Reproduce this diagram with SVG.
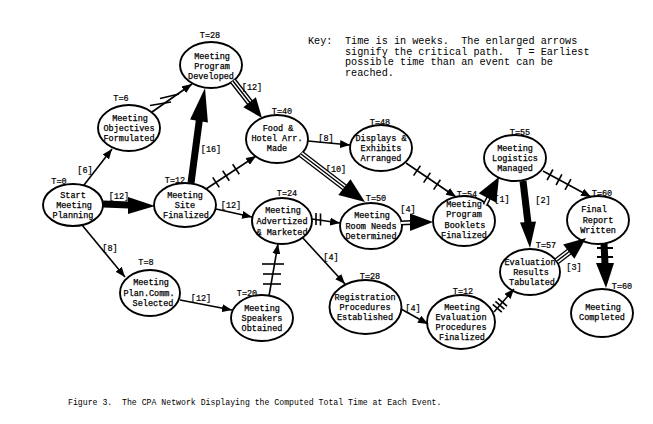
<svg xmlns="http://www.w3.org/2000/svg" width="653" height="424" viewBox="0 0 653 424">
<defs>
<style>
.node ellipse{fill:#fff;stroke:#000;stroke-width:1.9}
text{font-family:"Liberation Mono","DejaVu Sans Mono",monospace;fill:#000}
.nt{font-size:8.5px;text-anchor:middle;stroke:#000;stroke-width:0.25}
.tl{font-size:8.5px;text-anchor:middle;stroke:#000;stroke-width:0.2}
.lb{font-size:8.5px;text-anchor:middle;stroke:#000;stroke-width:0.2}
.key{font-size:10.2px}
.cap{font-size:8.2px}
.thin{stroke:#000;stroke-width:1.6;fill:none;marker-end:url(#ah)}
.tick{stroke:#000;stroke-width:1.6}
.thick{stroke:#000;stroke-width:7;fill:none}
.head{fill:#000}
.tri-o{stroke:#000;stroke-width:7;fill:none}
.tri-w{stroke:#fff;stroke-width:4.4;fill:none}
.tri-c{stroke:#000;stroke-width:1.4;fill:none}
.dbl-o{stroke:#000;stroke-width:5;fill:none}
.dbl-w{stroke:#fff;stroke-width:2;fill:none}
</style>
<marker id="ah" markerUnits="userSpaceOnUse" markerWidth="10" markerHeight="8" refX="10" refY="4" orient="auto">
<path d="M0,0 L10,4 L0,8 z" fill="#000"/>
</marker>
</defs>
<rect width="653" height="424" fill="#fff"/>

<g id="key">
<text class="key" x="308" y="44">Key:</text>
<text class="key" x="345" y="44" xml:space="preserve">Time is in weeks.  The enlarged arrows</text>
<text class="key" x="345" y="54.5" xml:space="preserve">signify the critical path.  T = Earliest</text>
<text class="key" x="345" y="65">possible time than an event can be</text>
<text class="key" x="345" y="75.5">reached.</text>
</g>

<g id="n-start" class="node"><ellipse cx="73" cy="205" rx="30" ry="21"/>
<text class="tl" x="59" y="184">T=0</text>
<text class="nt" x="73" y="198">Start</text><text class="nt" x="74" y="208">Meeting</text><text class="nt" x="73" y="218">Planning</text></g>

<g id="n-objectives" class="node"><ellipse cx="129" cy="128" rx="31" ry="23"/>
<text class="tl" x="121" y="101">T=6</text>
<text class="nt" x="130" y="121">Meeting</text><text class="nt" x="129" y="131">Objectives</text><text class="nt" x="129" y="141">Formulated</text></g>

<g id="n-program" class="node"><ellipse cx="211" cy="65" rx="31" ry="23"/>
<text class="tl" x="210" y="38">T=28</text>
<text class="nt" x="212" y="59">Meeting</text><text class="nt" x="212" y="69">Program</text><text class="nt" x="211" y="79">Developed</text></g>

<g id="n-site" class="node"><ellipse cx="185" cy="205" rx="31" ry="22"/>
<text class="tl" x="175" y="183">T=12</text>
<text class="nt" x="185" y="198">Meeting</text><text class="nt" x="185" y="208">Site</text><text class="nt" x="186" y="218">Finalized</text></g>

<g id="n-food" class="node"><ellipse cx="277" cy="139" rx="31" ry="24"/>
<text class="tl" x="282" y="114">T=40</text>
<text class="nt" x="278" y="131">Food &amp;</text><text class="nt" x="277" y="141">Hotel Arr.</text><text class="nt" x="277" y="151">Made</text></g>

<g id="n-advertized" class="node"><ellipse cx="282" cy="221" rx="30" ry="23"/>
<text class="tl" x="287" y="196">T=24</text>
<text class="nt" x="283" y="213">Meeting</text><text class="nt" x="282" y="224">Advertized</text><text class="nt" x="282" y="235">&amp; Marketed</text></g>

<g id="n-plancomm" class="node"><ellipse cx="150" cy="293" rx="30" ry="23"/>
<text class="tl" x="146" y="265">T=8</text>
<text class="nt" x="151" y="285">Meeting</text><text class="nt" x="149" y="296">Plan.Comm.</text><text class="nt" x="153" y="306">Selected</text></g>

<g id="n-speakers" class="node"><ellipse cx="262" cy="318" rx="31" ry="23"/>
<text class="tl" x="247" y="296">T=20</text>
<text class="nt" x="262" y="311">Meeting</text><text class="nt" x="262" y="321">Speakers</text><text class="nt" x="262" y="331">Obtained</text></g>

<g id="n-displays" class="node"><ellipse cx="381" cy="148" rx="31" ry="23"/>
<text class="tl" x="380" y="125">T=48</text>
<text class="nt" x="381" y="141">Displays &amp;</text><text class="nt" x="381" y="151">Exhibits</text><text class="nt" x="381" y="161">Arranged</text></g>

<g id="n-room" class="node"><ellipse cx="371" cy="226" rx="31" ry="23"/>
<text class="tl" x="376" y="201">T=50</text>
<text class="nt" x="372" y="218">Meeting</text><text class="nt" x="371" y="229">Room Needs</text><text class="nt" x="371" y="239">Determined</text></g>

<g id="n-registration" class="node"><ellipse cx="365.5" cy="307" rx="36" ry="27"/>
<text class="tl" x="370" y="279">T=28</text>
<text class="nt" x="365" y="300">Registration</text><text class="nt" x="365" y="310">Procedures</text><text class="nt" x="365" y="320">Established</text></g>

<g id="n-evalproc" class="node"><ellipse cx="461" cy="322" rx="34" ry="27"/>
<text class="tl" x="463" y="294">T=12</text>
<text class="nt" x="462" y="310">Meeting</text><text class="nt" x="461" y="320">Evaluation</text><text class="nt" x="461" y="330">Procedures</text><text class="nt" x="462" y="340">Finalized</text></g>

<g id="n-booklets" class="node"><ellipse cx="464" cy="221" rx="31" ry="25"/>
<text class="tl" x="467" y="197">T=54</text>
<text class="nt" x="464" y="206.5">Meeting</text><text class="nt" x="464" y="217">Program</text><text class="nt" x="465" y="227.5">Booklets</text><text class="nt" x="464" y="238">Finalized</text></g>

<g id="n-logistics" class="node"><ellipse cx="515" cy="158" rx="31" ry="23"/>
<text class="tl" x="520" y="135">T=55</text>
<text class="nt" x="515" y="151">Meeting</text><text class="nt" x="515" y="161">Logistics</text><text class="nt" x="515" y="171">Managed</text></g>

<g id="n-evalres" class="node"><ellipse cx="530" cy="272" rx="30" ry="23"/>
<text class="tl" x="546" y="248">T=57</text>
<text class="nt" x="530" y="265">Evaluation</text><text class="nt" x="531" y="275">Results</text><text class="nt" x="532" y="285">Tabulated</text></g>

<g id="n-final" class="node"><ellipse cx="598" cy="220" rx="31" ry="24"/>
<text class="tl" x="602" y="196">T=60</text>
<text class="nt" x="594" y="212">Final</text><text class="nt" x="598" y="223">Report</text><text class="nt" x="598" y="233">Written</text></g>

<g id="n-completed" class="node"><ellipse cx="602" cy="313" rx="31" ry="24"/>
<text class="tl" x="622" y="289">T=60</text>
<text class="nt" x="603" y="310">Meeting</text><text class="nt" x="602" y="320">Completed</text></g>

<g id="connectors">
<g><line class="thin" x1="84" y1="185" x2="112" y2="149"/><text class="lb" x="85" y="173">[6]</text></g>
<g><line class="thin" x1="152" y1="112" x2="192" y2="84"/>
<line class="tick" x1="150" y1="105.5" x2="171" y2="102"/><line class="tick" x1="160" y1="98.5" x2="179" y2="94"/></g>
<g><line class="thick" x1="103" y1="204" x2="129" y2="205"/><polygon class="head" points="128,197 155,206 128,214"/><text class="lb" x="119" y="199">[12]</text></g>
<g><line class="thin" x1="82" y1="225" x2="125" y2="277"/><text class="lb" x="110" y="251">[8]</text></g>
<g><line class="thick" x1="191" y1="183" x2="199.5" y2="119"/><polygon class="head" points="190.1,119.4 205,88 207.9,122.6"/><text class="lb" x="211" y="152">[16]</text></g>
<g><line class="thin" x1="206" y1="189" x2="256" y2="156"/>
<line class="tick" x1="212.7" y1="177.4" x2="219.3" y2="187.4"/><line class="tick" x1="222.7" y1="170.8" x2="229.3" y2="180.8"/><line class="tick" x1="232.7" y1="164.2" x2="239.3" y2="174.2"/></g>
<g><line class="thin" x1="216" y1="209" x2="252" y2="217"/><text class="lb" x="231" y="208">[12]</text></g>
<g><path class="tri-o" d="M233,81 L251,104"/><path class="tri-w" d="M233,81 L251,104"/><path class="tri-c" d="M233,81 L251,104"/>
<polygon class="head" points="255.9,97.3 262,118 243.3,107.3"/><text class="lb" x="252" y="90">[12]</text></g>
<g><line class="thin" x1="308" y1="141" x2="350" y2="145"/><text class="lb" x="326" y="141">[8]</text></g>
<g><text class="lb" x="336" y="172">[10]</text>
<path class="tri-o" d="M301,154 L346,188.5"/><path class="tri-w" d="M301,154 L346,188.5"/><path class="tri-c" d="M301,154 L346,188.5"/>
<polygon class="head" points="350.5,179.2 365,202 338.3,195"/></g>
<g><line class="thin" x1="312" y1="219" x2="340" y2="223"/>
<line class="tick" x1="316" y1="213" x2="316" y2="225"/><line class="tick" x1="320.5" y1="213.5" x2="320.5" y2="225.5"/></g>
<g><line class="thin" x1="302" y1="237" x2="345" y2="284"/><text class="lb" x="331" y="260">[4]</text></g>
<g><line class="thin" x1="269" y1="296" x2="278" y2="244"/>
<line class="tick" x1="262" y1="264" x2="284" y2="264"/><line class="tick" x1="263" y1="274" x2="281" y2="274"/><line class="tick" x1="263" y1="284" x2="281" y2="284"/></g>
<g><line class="thin" x1="180" y1="300" x2="232" y2="310"/><text class="lb" x="201" y="301">[12]</text></g>
<g><path class="dbl-o" d="M401,223 L412,222.5"/><path class="dbl-w" d="M401,223 L412,222.5"/>
<polygon class="head" points="410,213.5 433,222 410,231"/><text class="lb" x="408" y="212">[4]</text></g>
<g><line class="thin" x1="406" y1="163" x2="456" y2="197"/>
<line class="tick" x1="420.4" y1="165.8" x2="413.6" y2="175.6"/><line class="tick" x1="430.4" y1="172.8" x2="423.6" y2="182.6"/><line class="tick" x1="440.4" y1="179.8" x2="433.6" y2="189.6"/></g>
<g><path class="dbl-o" d="M485,205 L489,197"/><path class="dbl-w" d="M485,205 L489,197"/>
<polygon class="head" points="478.7,193.2 499,177 496.3,202.8"/><text class="lb" x="502" y="202">[1]</text></g>
<g><line class="thick" x1="523" y1="181" x2="528" y2="223"/><polygon class="head" points="520,222.6 530,248 536,221.4"/><text class="lb" x="543" y="203">[2]</text></g>
<g><line class="thin" x1="543" y1="171" x2="591" y2="197"/>
<line class="tick" x1="552.9" y1="169.5" x2="547.1" y2="180.1"/><line class="tick" x1="561.9" y1="174.4" x2="556.1" y2="185"/><line class="tick" x1="570.9" y1="179.2" x2="565.1" y2="189.8"/></g>
<g><path class="tri-o" d="M557,261 L570,251"/><path class="tri-w" d="M557,261 L570,251"/><path class="tri-c" d="M557,261 L570,251"/>
<polygon class="head" points="563.2,244.6 586,238 574.4,258.8"/><text class="lb" x="574" y="270">[3]</text></g>
<g><line class="thick" x1="604" y1="243" x2="605" y2="264"/>
<line class="tick" x1="597" y1="248" x2="613" y2="248" style="stroke-width:2"/><line class="tick" x1="597" y1="257" x2="613" y2="257" style="stroke-width:2"/>
<polygon class="head" points="596,263 606,288 614,263"/></g>
<g><line class="thin" x1="401" y1="309" x2="428" y2="324"/><text class="lb" x="413" y="311">[4]</text></g>
<g><line class="thin" x1="494" y1="312" x2="514" y2="289"/>
<line class="tick" x1="492.8" y1="304.3" x2="501.8" y2="312.1"/><line class="tick" x1="495.4" y1="301.3" x2="504.4" y2="309.1"/><line class="tick" x1="498" y1="298.3" x2="507" y2="306.1"/></g>
</g>

<text class="cap" x="68" y="404.5" xml:space="preserve">Figure 3.  The CPA Network Displaying the Computed Total Time at Each Event.</text>
</svg>
